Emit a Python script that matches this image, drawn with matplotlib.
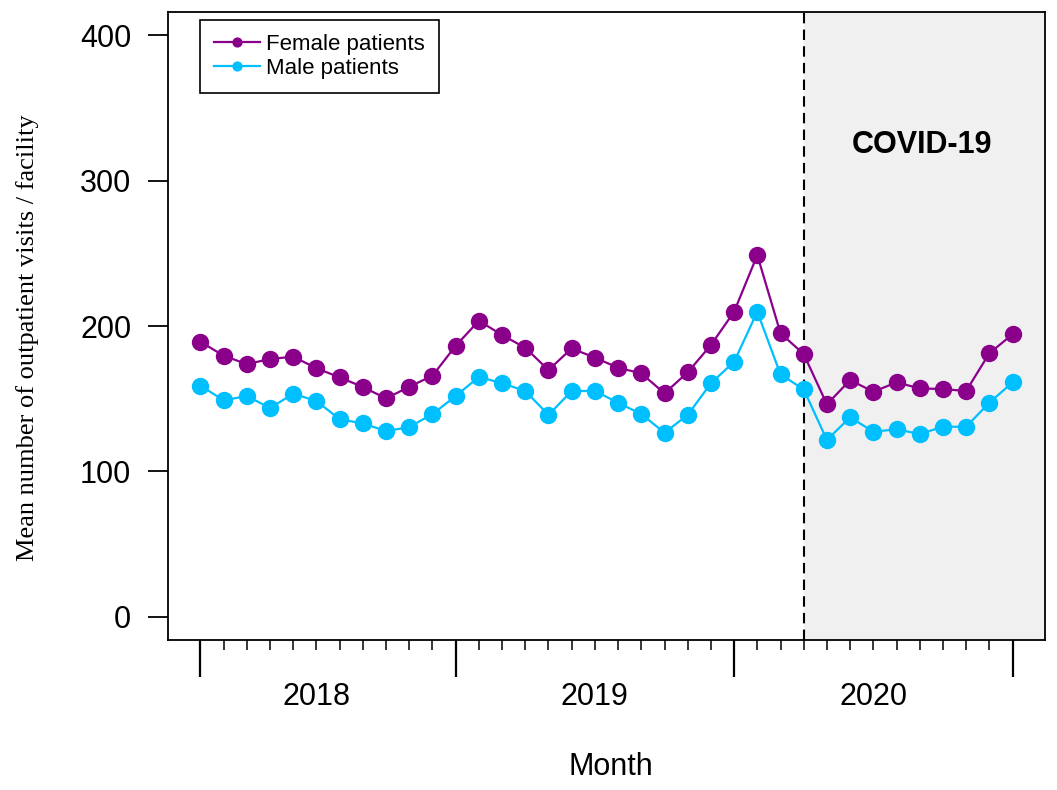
import matplotlib
matplotlib.use("Agg")
from matplotlib import pyplot as plt

# monthly means, Jan 2018 .. Dec 2020
months = [f"{y}-{m:02d}" for y in (2018, 2019, 2020) for m in range(1, 13)]
female = [189.2, 179.5, 173.8, 177.3, 178.9, 170.9, 164.7, 158.0, 150.2, 158.2, 165.8, 186.4,
          203.6, 193.8, 185.0, 169.7, 184.6, 178.2, 171.3, 167.4, 153.7, 168.1, 186.9, 209.8,
          248.8, 195.0, 180.7, 146.1, 162.8, 154.8, 161.2, 157.1, 156.6, 155.3, 181.2, 194.3]
male = [158.9, 148.9, 151.8, 143.6, 153.4, 148.4, 135.8, 133.0, 127.7, 130.5, 139.4, 151.8,
        165.0, 160.6, 155.3, 138.8, 155.3, 155.3, 147.2, 139.4, 126.6, 138.8, 160.6, 175.4,
        209.8, 166.7, 156.4, 121.6, 137.2, 127.3, 128.9, 125.7, 130.7, 130.7, 147.2, 161.2]
years = ["2018", "2019", "2020"]
year_label_month = ["2018-06", "2019-06", "2020-06"]
major_months = ["2018-01", "2018-12", "2019-12", "2020-12"]
covid_start = "2020-03"
yticks = [0, 100, 200, 300, 400]

FEMALE_COL = "#8B008B"
MALE_COL = "#00BFFF"
SANS = ["Liberation Sans", "DejaVu Sans"]

x = list(range(len(months)))
xmin, xmax = -0.04 * (len(x) - 1), (len(x) - 1) * 1.04
ymin, ymax = -16, 416

fig = plt.figure(figsize=(10.57, 7.9), dpi=100)
ax = fig.add_axes([168 / 1057, 1 - 640 / 790, (1045 - 168) / 1057, (640 - 12) / 790])
ax.set_xlim(xmin, xmax)
ax.set_ylim(ymin, ymax)

cx = months.index(covid_start)
ax.axvspan(cx, xmax, color="#f0f0f0", zorder=0)
ax.axvline(cx, color="black", linestyle=(0, (5, 3)), linewidth=1.5, zorder=1)

ax.plot(x, female, color=FEMALE_COL, marker="o", markersize=11.5, linewidth=1.6,
        label="Female patients", zorder=3)
ax.plot(x, male, color=MALE_COL, marker="o", markersize=11.5, linewidth=1.6,
        label="Male patients", zorder=3)

ax.annotate("COVID-19", xy=(922, 790 - 145), xycoords="figure pixels", ha="center",
            va="center", fontsize=22, fontweight="bold", family=SANS)

for sp in ax.spines.values():
    sp.set_linewidth(1.3)

# y axis
ax.set_yticks(yticks)
ax.set_yticklabels([str(v) for v in yticks], family=SANS, fontsize=22)
ax.tick_params(axis="y", length=14.5, width=1.3, pad=12)
fig.text(28 / 1057, 1 - 338 / 790, "Mean number of outpatient visits / facility",
         rotation=90, ha="center", va="center", family=["Liberation Serif"], fontsize=19)

# x axis: long ticks for year boundaries, short ones for months
ax.set_xticks([months.index(m) for m in major_months])
ax.set_xticklabels([])
ax.set_xticks([i for i in x if months[i] not in major_months], minor=True)
ax.tick_params(axis="x", which="major", length=26.5, width=1.6)
ax.tick_params(axis="x", which="minor", length=7, width=1.1)
for yr, m in zip(years, year_label_month):
    ax.annotate(yr, xy=(months.index(m), 0), xycoords=("data", "axes fraction"),
                xytext=(0, -57), textcoords="offset pixels", ha="center", va="center",
                fontsize=22, family=SANS)
ax.annotate("Month", xy=(0.5, 0), xycoords="axes fraction", xytext=(4, -127),
            textcoords="offset pixels", ha="center", va="center", fontsize=22, family=SANS)

leg = ax.legend(loc="upper left", bbox_to_anchor=(32 / 877, 1 - 8 / 628), fancybox=False,
                edgecolor="black", framealpha=1, prop={"family": SANS, "size": 16},
                markerscale=0.55, handlelength=2.1, borderpad=0.62, labelspacing=0.15,
                handletextpad=0.27, borderaxespad=0)
leg.get_frame().set_linewidth(1.2)

fig.savefig("out.png", dpi=100)
